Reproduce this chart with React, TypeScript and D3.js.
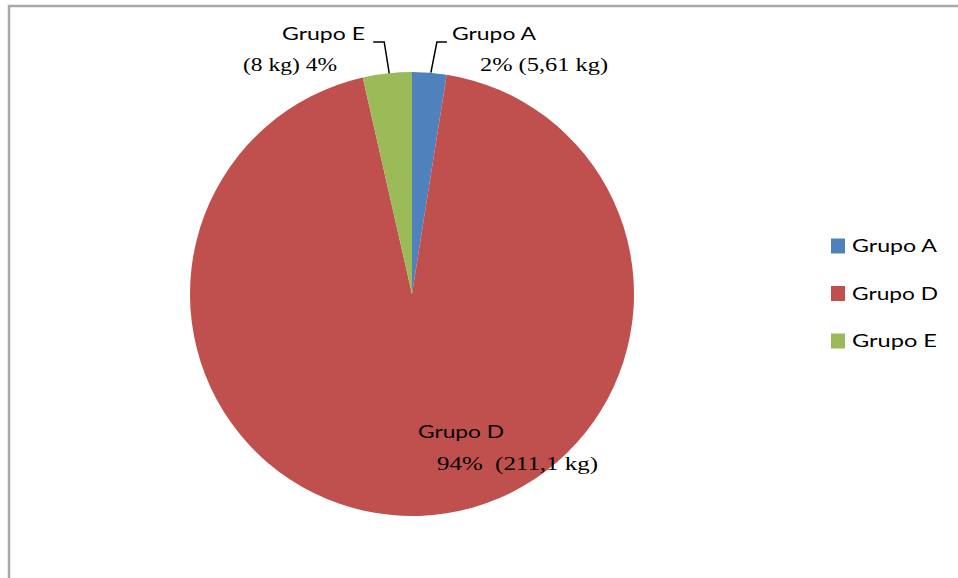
import React from "react";
import * as d3 from "d3";

const categories = ["Grupo A", "Grupo D", "Grupo E"];
const values = [5.61, 211.1, 8];
const percentLabels = ["2%", "94%", "4%"];
const kgLabels = ["(5,61 kg)", "(211,1 kg)", "(8 kg)"];
const colors = ["#4F81BD", "#C0504D", "#9BBB59"];

const W = 958;
const H = 578;
const cx = 412;
const cy = 294;
const R = 222;

const SANS = "Lato, 'Open Sans', sans-serif";
const SERIF = "'Liberation Serif', 'Times New Roman', serif";

export default function App() {
  const pie = d3
    .pie<number>()
    .sort(null)
    .value((d) => d)
    .startAngle(0)
    .endAngle(2 * Math.PI);
  const arcs = pie(values);
  const arcGen = d3.arc<d3.PieArcDatum<number>>().innerRadius(0).outerRadius(R);

  const edgePoint = (a: d3.PieArcDatum<number>) => {
    const m = (a.startAngle + a.endAngle) / 2;
    return [cx + R * Math.sin(m), cy - R * Math.cos(m)];
  };

  const pA = edgePoint(arcs[0]);
  const pE = edgePoint(arcs[2]);

  return (
    <svg
      width={W}
      height={H}
      style={{ position: "absolute", left: 0, top: 0, background: "#fff" }}
    >
      <rect x={9} y={6} width={W + 20} height={H + 20} fill="#fff" stroke="#a9a9a9" strokeWidth={2.5} />
      <g transform={`translate(${cx},${cy})`}>
        {arcs.map((a, i) => (
          <path key={i} d={arcGen(a) || ""} fill={colors[i]} />
        ))}
      </g>

      {/* Leader lines */}
      <polyline
        points={`${pA[0] + 1.5},${pA[1]} ${pA[0] + 7.5},42 ${pA[0] + 17.5},42`}
        fill="none"
        stroke="#000"
        strokeWidth={1.5}
      />
      <polyline
        points={`${pE[0] + 2},${pE[1]} ${pE[0] - 3},42 ${pE[0] - 14},42`}
        fill="none"
        stroke="#000"
        strokeWidth={1.5}
      />

      {/* Grupo A label */}
      <text x={452} y={40} fontFamily={SANS} fontSize={17} fill="#000" textLength={84} lengthAdjust="spacingAndGlyphs">
        {categories[0]}
      </text>
      <text x={480} y={71} fontFamily={SERIF} fontSize={18} fill="#000" textLength={128} lengthAdjust="spacingAndGlyphs">
        {`${percentLabels[0]} ${kgLabels[0]}`}
      </text>

      {/* Grupo E label */}
      <text x={282} y={40} fontFamily={SANS} fontSize={17} fill="#000" textLength={83} lengthAdjust="spacingAndGlyphs">
        {categories[2]}
      </text>
      <text x={243} y={71} fontFamily={SERIF} fontSize={18} fill="#000" textLength={94} lengthAdjust="spacingAndGlyphs">
        {`${kgLabels[2]} ${percentLabels[2]}`}
      </text>

      {/* Grupo D label */}
      <text x={418} y={438} fontFamily={SANS} fontSize={17} fill="#000" textLength={86} lengthAdjust="spacingAndGlyphs">
        {categories[1]}
      </text>
      <text x={437} y={470} fontFamily={SERIF} fontSize={18} fill="#000" textLength={161} lengthAdjust="spacingAndGlyphs" xmlSpace="preserve">
        {`${percentLabels[1]}  ${kgLabels[1]}`}
      </text>

      {/* Legend */}
      {categories.map((c, i) => (
        <g key={c} transform={`translate(831,${246 + i * 47.5})`}>
          <rect x={0} y={-7.5} width={14} height={15} fill={colors[i]} />
          <text x={21} y={6} fontFamily={SANS} fontSize={17} fill="#000" textLength={c === "Grupo D" ? 86 : 85} lengthAdjust="spacingAndGlyphs">
            {c}
          </text>
        </g>
      ))}
    </svg>
  );
}
